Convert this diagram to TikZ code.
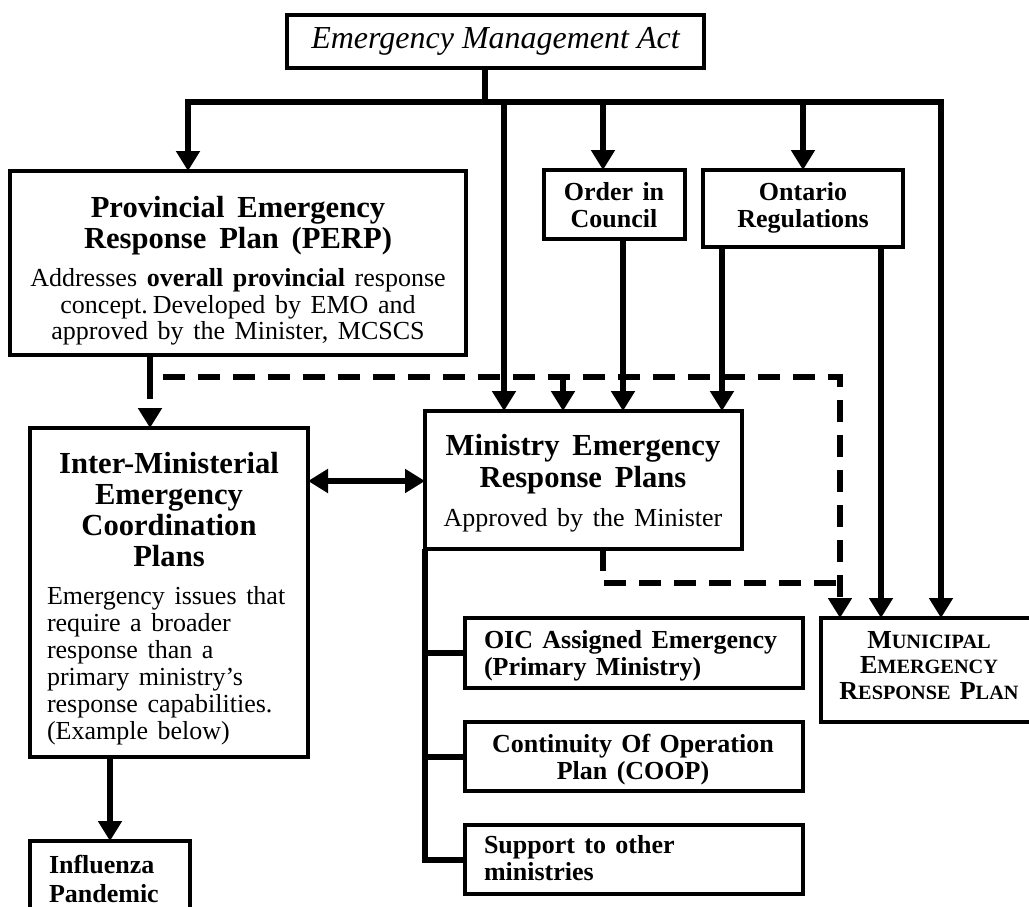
\documentclass[tikz,border=0pt]{standalone}
\usepackage{fontspec}
\setmainfont{Liberation Serif}
\usetikzlibrary{arrows.meta}
\setlength{\parindent}{0pt}
% type sizes (1pt = 1 unit of the drawing), with slightly open word spacing
\newcommand\headfont{\bfseries\fontsize{30.6}{31}\selectfont\spaceskip=0.42em plus 0.1em minus 0.1em\relax}
\newcommand\bodyfont{\fontsize{26}{27}\selectfont\spaceskip=0.37em plus 0.1em minus 0.1em\relax}
\newcommand\labelfont{\bfseries\fontsize{26}{27}\selectfont\spaceskip=0.36em plus 0.1em minus 0.1em\relax}
% hand-made small capitals: full-size initial, reduced capitals after it
\newcommand\fakesc[2]{#1{\fontsize{20.3}{20}\selectfont #2}}

\begin{document}
\begin{tikzpicture}[x=1pt,y=-1pt,
  >={Triangle[length=20pt,width=23pt]},
  box/.style={draw, line width=4pt, inner sep=0pt, outer sep=0pt, fill=white},
  txt/.style={inner sep=0pt, outer sep=0pt},
  conn/.style={line width=6pt},
  dashconn/.style={line width=5.5pt, dash pattern=on 22pt off 13pt}]

\useasboundingbox (0,0) rectangle (1029,907);
\clip (0,0) rectangle (1029,907);

% ---------- boxes ----------
\node[box, minimum width=417, minimum height=53] (ema) at (495.5,41.5)
  {\itshape\fontsize{32}{34}\selectfont Emergency Management Act};
\node[box, minimum width=456, minimum height=184] (perp) at (238,263) {};
\node[box, minimum width=141, minimum height=69] (oic) at (614.5,204.5) {};
\node[box, minimum width=200, minimum height=77] (oreg) at (803,208.5) {};
\node[box, minimum width=317, minimum height=138] (ministry) at (583.5,480) {};
\node[box, minimum width=278, minimum height=329] (inter) at (169,592.5) {};
\node[box, minimum width=160, minimum height=90] (infl) at (110,886) {};
\node[box, minimum width=216, minimum height=104] (mun) at (929,670) {};
\node[box, minimum width=338, minimum height=70] (oicas) at (634,653) {};
\node[box, minimum width=338, minimum height=69] (coop) at (634,756.5) {};
\node[box, minimum width=338, minimum height=69] (support) at (634,859.5) {};

% ---------- texts ----------
\node[txt, text width=440, anchor=base] (perp-text) at (238,217)
  {{\centering\headfont Provincial Emergency\\Response Plan (PERP)\par}
   \vspace{11pt}
   {\centering\bodyfont Addresses \textbf{overall provincial} response\\
    concept. Developed by EMO and\\approved by the Minister, MCSCS\par}};
\node[txt, text width=140, anchor=base] (oic-text) at (614,200)
  {{\centering\labelfont Order in\\Council\par}};
\node[txt, text width=200, anchor=base] (oreg-text) at (803,200)
  {{\centering\labelfont Ontario\\Regulations\par}};
\node[txt, text width=300, anchor=base] (ministry-text) at (583,455)
  {{\centering\headfont\baselineskip=32pt Ministry Emergency\\Response Plans\par}
   \vspace{12pt}
   {\centering\bodyfont Approved by the Minister\par}};
\node[txt, text width=244, anchor=base] (inter-text) at (169,473)
  {{\centering\headfont Inter-Ministerial\\Emergency\\Coordination\\Plans\par}
   \vspace{11pt}
   {\raggedright\bodyfont Emergency issues that\\require a broader\\response than a\\
    primary ministry’s\\response capabilities.\\(Example below)\par}};
\node[txt, text width=130, anchor=base west] (infl-text) at (49,873)
  {{\raggedright\bfseries\fontsize{26}{29}\selectfont Influenza\\Pandemic\par}};
\node[txt, text width=216, anchor=base] (mun-text) at (929,648)
  {{\centering\bfseries\fontsize{26}{25.5}\selectfont\spaceskip=0.35em\relax
    \fakesc{M}{UNICIPAL}\\\fakesc{E}{MERGENCY}\\\fakesc{R}{ESPONSE} \fakesc{P}{LAN}\par}};
\node[txt, text width=320, anchor=base west] (oicas-text) at (484,648)
  {{\raggedright\labelfont OIC Assigned Emergency\\(Primary Ministry)\par}};
\node[txt, text width=320, anchor=base] (coop-text) at (633,752)
  {{\centering\labelfont Continuity Of Operation\\Plan (COOP)\par}};
\node[txt, text width=320, anchor=base west] (support-text) at (484,853)
  {{\raggedright\labelfont Support to other\\ministries\par}};

% ---------- reference lines for routing ----------
\coordinate (bus) at (0,102);
\coordinate (stem) at (485,0);
\coordinate (xL) at (188,0);
\coordinate (xR) at (941,0);
\coordinate (xM) at (504,0);
\coordinate (xO) at (603,0);
\coordinate (xOC) at (623,0);
\coordinate (xR1) at (722,0);
\coordinate (xR2) at (881,0);
\coordinate (dash) at (0,377);
\coordinate (low) at (0,583);
\coordinate (mid) at (0,481);
\coordinate (xd1) at (150,0);
\coordinate (xd2) at (563,0);
\coordinate (xd3) at (840,0);
\coordinate (xI) at (110,0);

% ---------- solid connectors ----------
\draw[conn] (ema.south -| stem) -- (stem |- bus);
\draw[conn,<->] (perp.north -| xL) -- (xL |- bus) -- (xR |- bus) -- (mun.north -| xR);
\draw[conn,->] (xM |- bus) -- (ministry.north -| xM);
\draw[conn,->] (xO |- bus) -- (oic.north -| xO);
\draw[conn,->] (oreg.north |- bus) -- (oreg.north);
\draw[conn,->] (oic.south -| xOC) -- (ministry.north -| xOC);
\draw[conn,->] (oreg.south -| xR1) -- (ministry.north -| xR1);
\draw[conn,->] (oreg.south -| xR2) -- (mun.north -| xR2);
\draw[conn,<->] (inter.east |- mid) -- (ministry.west |- mid);
\draw[conn,->] (inter.south -| xI) -- (infl.north -| xI);
\draw[conn] (ministry.south west) -- (ministry.south west |- support.west) -- (support.west);
\draw[conn] (ministry.south west |- oicas.west) -- (oicas.west);
\draw[conn] (ministry.south west |- coop.west) -- (coop.west);

% ---------- dashed connectors ----------
\draw[dashconn,->] (perp.south -| xd1) -- (xd1 |- dash) -- (xd3 |- dash) -- (mun.north -| xd3);
\draw[dashconn,->] (xd1 |- dash) -- (inter.north -| xd1);
\draw[dashconn,->] (xd2 |- dash) -- (ministry.north -| xd2);
\draw[dashconn] (ministry.south -| xO) -- (xO |- low) -- (xd3 |- low);
\end{tikzpicture}
\end{document}
